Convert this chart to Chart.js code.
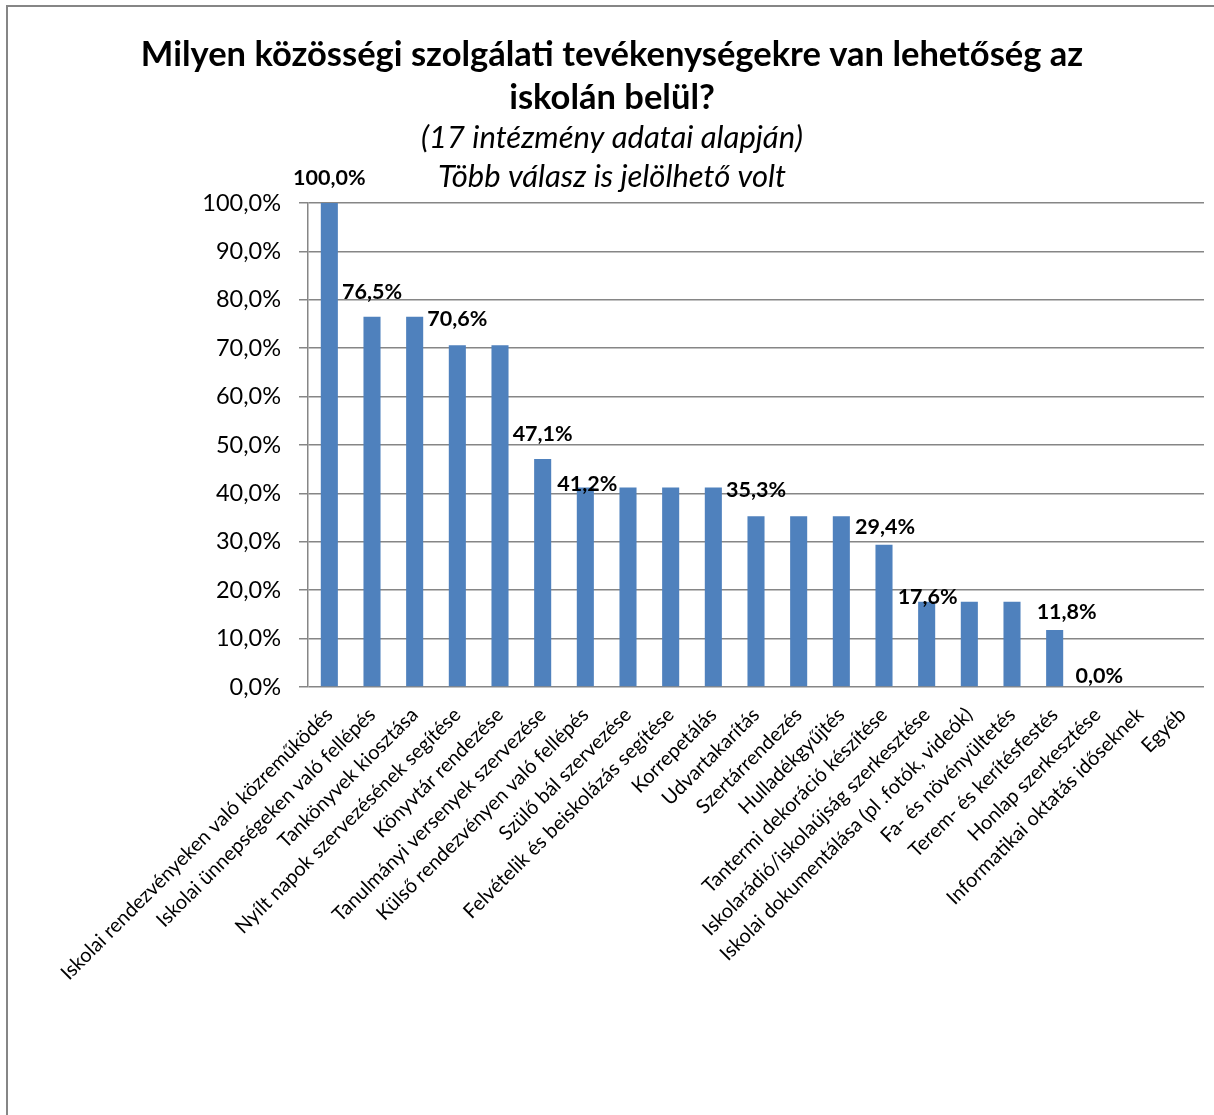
<!DOCTYPE html>
<html lang="hu">
<head>
<meta charset="utf-8">
<title>Közösségi szolgálati tevékenységek</title>
<script src="https://cdn.jsdelivr.net/npm/chart.js@4.4.1/dist/chart.umd.min.js"></script>
<style>
  html, body { margin: 0; padding: 0; background: #fff; }
  #wrap { position: relative; width: 1214px; height: 1115px; }
</style>
</head>
<body>
<div id="wrap"><canvas id="serviceChart"></canvas></div>
<script>
// Categories and shares (17 institutions, several answers allowed)
const categories = [
    'Iskolai rendezvényeken való közreműködés',
    'Iskolai ünnepségeken való fellépés',
    'Tankönyvek kiosztása',
    'Nyílt napok szervezésének segítése',
    'Könyvtár rendezése',
    'Tanulmányi versenyek szervezése',
    'Külső rendezvényen való fellépés',
    'Szülő bál szervezése',
    'Felvételik és beiskolázás segítése',
    'Korrepetálás',
    'Udvartakarítás',
    'Szertárrendezés',
    'Hulladékgyűjtés',
    'Tantermi dekoráció készítése',
    'Iskolarádió/iskolaújság szerkesztése',
    'Iskolai dokumentálása (pl .fotók, videók)',
    'Fa- és növényültetés',
    'Terem- és kerítésfestés',
    'Honlap szerkesztése',
    'Informatikai oktatás időseknek',
    'Egyéb'
];
const percentValues = [100, 76.5, 76.5, 70.6, 70.6, 47.1, 41.2, 41.2, 41.2, 41.2,
                       35.3, 35.3, 35.3, 29.4, 17.6, 17.6, 17.6, 11.8, 0, 0, 0];
const yTicks = [0, 10, 20, 30, 40, 50, 60, 70, 80, 90, 100];

// bars that carry a value label (first of each group in the original)
const labelIndexes = [0, 1, 3, 5, 6, 10, 13, 14, 17, 18];
// label placement: px above the bar top, px to the right of bar centre
const labelLift = [25, 25, 26, 25, 4, 26, 18, 5, 18, 11];
const labelShift = [0, 0, 0, 0, 2, 0, 1, 1, 12, 2];

const titleLines = ['Milyen közösségi szolgálati tevékenységekre van lehetőség az', 'iskolán belül?'];
const subtitleLines = ['(17 intézmény adatai alapján)', 'Több válasz is jelölhető volt'];

const FONT = 'Lato, "Open Sans", sans-serif';
const GRID = '#868686';

function fmt(v) {
    return v.toFixed(1).replace('.', ',') + '%';
}

// white page, grey frame (top + left) and the titles
const frameAndTitles = {
    id: 'frameAndTitles',
    beforeDraw(chart) {
        const ctx = chart.ctx;
        ctx.save();
        ctx.fillStyle = '#fff';
        ctx.fillRect(0, 0, chart.width, chart.height);
        ctx.strokeStyle = GRID;
        ctx.lineWidth = 2;
        ctx.beginPath();
        ctx.moveTo(chart.width, 6);
        ctx.lineTo(7, 6);
        ctx.lineTo(7, chart.height);
        ctx.stroke();

        ctx.fillStyle = '#000';
        ctx.textAlign = 'center';
        ctx.textBaseline = 'alphabetic';
        ctx.font = 'bold 34.5px ' + FONT;
        ctx.fillText(titleLines[0], 612, 66);
        ctx.fillText(titleLines[1], 612, 109);
        ctx.font = 'italic 31px ' + FONT;
        ctx.fillText(subtitleLines[0], 612, 148);
        ctx.fillText(subtitleLines[1], 612, 187);
        ctx.restore();
    }
};

const valueLabels = {
    id: 'valueLabels',
    afterDatasetsDraw(chart) {
        const ctx = chart.ctx;
        const bars = chart.getDatasetMeta(0).data;
        ctx.save();
        ctx.font = 'bold 21.5px ' + FONT;
        ctx.fillStyle = '#000';
        ctx.textAlign = 'center';
        ctx.textBaseline = 'middle';
        labelIndexes.forEach(function(idx, k) {
            const bar = bars[idx];
            ctx.fillText(fmt(percentValues[idx]), bar.x + labelShift[k], bar.y - labelLift[k]);
        });
        ctx.restore();
    }
};

document.addEventListener('DOMContentLoaded', function() {
    const ctx = document.getElementById('serviceChart').getContext('2d');
    new Chart(ctx, {
        type: 'bar',
        data: {
            labels: categories,
            datasets: [{
                data: percentValues,
                backgroundColor: '#4F81BD',
                borderWidth: 0,
                categoryPercentage: 1,
                barPercentage: 0.4
            }]
        },
        options: {
            responsive: true,
            maintainAspectRatio: false,
            animation: false,
            layout: {
                padding: { top: 203, left: 7, right: 10, bottom: 0 }
            },
            plugins: {
                legend: { display: false },
                tooltip: { enabled: false }
            },
            scales: {
                x: {
                    grid: { display: false, drawTicks: false },
                    border: { display: false },
                    ticks: {
                        autoSkip: false,
                        maxRotation: 45,
                        minRotation: 45,
                        padding: 16,
                        color: '#000',
                        font: { family: FONT, size: 20 }
                    },
                    afterFit: function(scale) {
                        scale.height = 428;
                        // rotated labels fit already; don't let them shrink the plot
                        scale.paddingLeft = 0;
                        scale.paddingRight = 0;
                    }
                },
                y: {
                    min: 0,
                    max: 100,
                    afterBuildTicks: function(scale) {
                        scale.ticks = yTicks.map(function(v) { return { value: v }; });
                    },
                    grid: { color: GRID, lineWidth: 1.5, tickLength: 9 },
                    border: { color: GRID, width: 1.5 },
                    ticks: {
                        padding: 18,
                        color: '#000',
                        font: { family: FONT, size: 23.5 },
                        callback: function(value) { return fmt(value); }
                    },
                    afterFit: function(scale) { scale.width = 301; }
                }
            }
        },
        plugins: [frameAndTitles, valueLabels]
    });
});
</script>
</body>
</html>
